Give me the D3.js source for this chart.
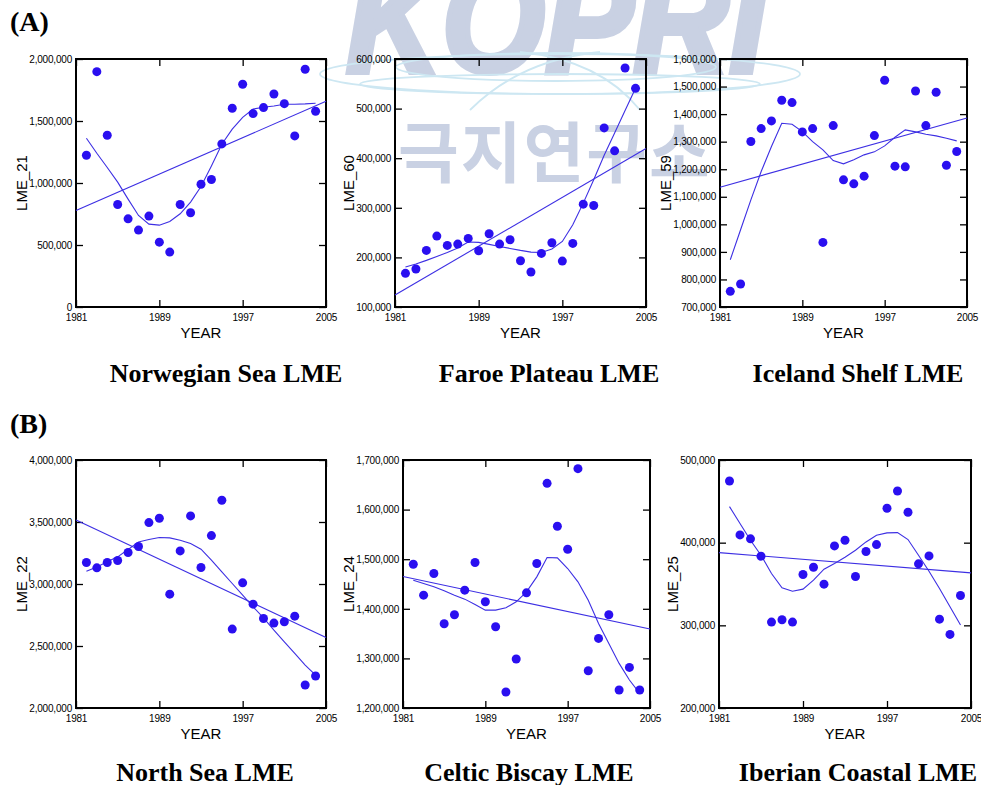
<!DOCTYPE html>
<html><head><meta charset="utf-8">
<script src="https://cdn.jsdelivr.net/npm/d3@7"></script>
<style>body{margin:0;background:#fff}svg{display:block}</style>
</head><body><svg id="c" width="981" height="785"></svg>
<script>
// ---------------- DATA ----------------
const years = [1982,1983,1984,1985,1986,1987,1988,1989,1990,1991,1992,1993,1994,1995,1996,1997,1998,1999,2000,2001,2002,2003,2004];
const trendYears = [1981, 2005];
const xTicks = [1981, 1989, 1997, 2005];

const titles = ["Norwegian Sea LME","Faroe Plateau LME","Iceland Shelf LME","North Sea LME","Celtic Biscay LME","Iberian Coastal LME"];
const yLabels = ["LME_21","LME_60","LME_59","LME_22","LME_24","LME_25"];
const groupLabels = ["(A)","(B)"];

const lme21 = [1224000,1898000,1385000,827000,711000,620000,733000,523000,443000,827000,760000,990000,1028000,1315000,1603000,1796000,1560000,1608000,1718000,1640000,1380000,1917000,1579000];
const lme21Smooth = [1361000,1240000,1125000,1007000,870000,738000,668000,660000,690000,752000,846000,972000,1138000,1313000,1434000,1530000,1597000,1611000,1621000,1635000,1635000,1638000,1643000];
const lme21Trend = [778500,1659000];
const lme21Ticks = [0,500000,1000000,1500000,2000000];

const lme60 = [167800,176500,214100,243000,224200,226800,238300,213400,247700,226800,235600,193300,170500,208100,229500,192600,228200,307400,304700,461100,414800,581900,540900];
const lme60Smooth = [180500,186600,194000,202000,210000,218800,230900,230200,226200,222100,218100,214100,210700,210000,216800,232200,265800,309400,356400,406000,451000,496000,540900];
const lme60Trend = [124200,419500];
const lme60Ticks = [100000,200000,300000,400000,500000,600000];

const lme59 = [756800,783400,1300400,1347500,1375300,1450200,1441700,1335400,1347500,934400,1358400,1161500,1147000,1174800,1322100,1522700,1211000,1208600,1484000,1358400,1479200,1214600,1264200];
const lme59Smooth = [871500,980300,1089000,1191700,1282300,1366900,1363200,1336600,1300400,1270200,1231500,1219500,1234000,1252100,1263000,1284700,1316100,1342700,1335400,1327000,1320900,1312500,1302800];
const lme59Trend = [1134900,1386200];
const lme59Ticks = [700000,800000,900000,1000000,1100000,1200000,1300000,1400000,1500000,1600000];

const lme22 = [3173200,3130200,3173200,3189300,3253700,3302000,3495300,3530200,2918100,3267100,3549000,3132900,3390600,3675200,2636200,3009400,2837600,2722100,2684600,2695300,2740900,2185200,2257700];
const lme22Smooth = [3103400,3138000,3178500,3218800,3277900,3339600,3358400,3374500,3371800,3353000,3326200,3280500,3192000,3098000,3004000,2910000,2816000,2727500,2628000,2534000,2440000,2346000,2265800];
const lme22Trend = [3516800,2569100];
const lme22Ticks = [2000000,2500000,3000000,3500000,4000000];

const lme24 = [1489900,1427500,1471100,1369800,1387900,1437600,1493300,1414100,1363800,1232200,1298700,1432200,1491300,1653000,1566400,1520100,1682500,1275200,1340300,1387900,1236200,1281900,1236200];
const lme24Smooth = [1457700,1451000,1444300,1436200,1427500,1419500,1408700,1397300,1397300,1402000,1414100,1434200,1464400,1503400,1502700,1481200,1454400,1417400,1370500,1330200,1289900,1256400,1229500];
const lme24Trend = [1465100,1359100];
const lme24Ticks = [1200000,1300000,1400000,1500000,1600000,1700000];

const lme25 = [474600,409400,404600,383600,303900,306700,303900,361500,370300,349800,396100,402900,359100,389300,397700,441600,462500,436800,374400,384000,307500,289000,336100];
const lme25Smooth = [443600,423100,402900,384800,362700,345400,341300,343800,354600,367900,374800,382400,390900,400900,409000,411800,412200,403800,384800,365500,344600,322400,300300];
const lme25Trend = [388000,363500];
const lme25Ticks = [200000,300000,400000,500000];

// ---------------- LAYOUT ----------------
const svg = d3.select("#c");
const dotColor = "#2a0ff0";
const lineColor = "#3d2fe3";

// watermark
const wm = svg.append("g");
wm.append("text").attr("x", 556).attr("y", 72).attr("text-anchor", "middle")
  .attr("font-family", "Liberation Sans, Arial, sans-serif").attr("font-weight", "900")
  .attr("font-style", "italic").attr("font-size", 150)
  .attr("stroke", "#c9d1e3").attr("stroke-width", 6)
  .attr("textLength", 420).attr("lengthAdjust", "spacingAndGlyphs")
  .attr("fill", "#c9d1e3").text("KOPRI");
[[560,74,240,20],[556,67,160,14],[560,84,200,10]].forEach(e => {
  wm.append("ellipse").attr("cx", e[0]).attr("cy", e[1]).attr("rx", e[2]).attr("ry", e[3])
    .attr("fill", "none").attr("stroke", "#cde7f2").attr("stroke-width", 1.8);
});
wm.append("path").attr("d", "M470,110 Q520,60 600,52").attr("fill","none").attr("stroke","#cde7f2").attr("stroke-width",1.8);
wm.append("path").attr("d", "M640,110 Q600,60 520,52").attr("fill","none").attr("stroke","#cde7f2").attr("stroke-width",1.8);
wm.append("text").attr("x", 398).attr("y", 177)
  .attr("font-family", "Noto Sans CJK KR, sans-serif").attr("font-weight", "bold")
  .attr("font-size", 66).attr("letter-spacing", 2)
  .attr("fill", "#c9d1e3").text("극지연구소");

const panels = [
  {v: lme21, s: lme21Smooth, t: lme21Trend, ticks: lme21Ticks, l: 76,  r: 326, top: 59,  bot: 307, tx: 226},
  {v: lme60, s: lme60Smooth, t: lme60Trend, ticks: lme60Ticks, l: 395, r: 646, top: 59,  bot: 307, tx: 549},
  {v: lme59, s: lme59Smooth, t: lme59Trend, ticks: lme59Ticks, l: 720, r: 967, top: 59,  bot: 307, tx: 858},
  {v: lme22, s: lme22Smooth, t: lme22Trend, ticks: lme22Ticks, l: 76,  r: 326, top: 460, bot: 708, tx: 205},
  {v: lme24, s: lme24Smooth, t: lme24Trend, ticks: lme24Ticks, l: 403, r: 650, top: 460, bot: 708, tx: 529},
  {v: lme25, s: lme25Smooth, t: lme25Trend, ticks: lme25Ticks, l: 719, r: 971, top: 460, bot: 708, tx: 858}
];
const titleBase = [382, 781];

panels.forEach((p, i) => {
  const g = svg.append("g");
  const x = d3.scaleLinear().domain([xTicks[0], xTicks[xTicks.length-1]]).range([p.l, p.r]);
  const y = d3.scaleLinear().domain(d3.extent(p.ticks)).range([p.bot, p.top]);
  const fmt = d3.format(",");

  const styleAxis = sel => {
    sel.select(".domain").remove();
    sel.selectAll(".tick line").attr("stroke", "#000").attr("stroke-width", 1.3);
    sel.selectAll("text").attr("font-family", "Liberation Sans, Arial, sans-serif").attr("font-size", 10).attr("fill", "#000").attr("letter-spacing", -0.2);
  };
  const ax = g.append("g").attr("transform", `translate(${p.l},0)`)
    .call(d3.axisLeft(y).tickValues(p.ticks).tickSize(-7).tickPadding(4).tickFormat(fmt)).call(styleAxis);
  g.append("g").attr("transform", `translate(${p.r},0)`)
    .call(d3.axisRight(y).tickValues(p.ticks).tickSize(-7).tickFormat("")).call(styleAxis);
  g.append("g").attr("transform", `translate(0,${p.bot})`)
    .call(d3.axisBottom(x).tickValues(xTicks).tickSize(-7).tickPadding(7).tickFormat(d3.format("d"))).call(styleAxis);
  g.append("g").attr("transform", `translate(0,${p.top})`)
    .call(d3.axisTop(x).tickValues(xTicks).tickSize(-7).tickFormat("")).call(styleAxis);

  g.append("rect").attr("x", p.l).attr("y", p.top).attr("width", p.r - p.l).attr("height", p.bot - p.top)
    .attr("fill", "none").attr("stroke", "#000").attr("stroke-width", 2);

  let maxW = 0;
  ax.selectAll("text").each(function(){ maxW = Math.max(maxW, this.getBBox().width); });

  // axis titles
  g.append("text").attr("x", (p.l + p.r) / 2).attr("y", p.bot + 31).attr("text-anchor", "middle")
    .attr("font-family", "Liberation Sans, Arial, sans-serif").attr("font-size", 15).text("YEAR");
  g.append("text").attr("transform", `translate(${p.l - maxW - 6},${(p.top + p.bot) / 2}) rotate(-90)`)
    .attr("text-anchor", "middle").attr("font-family", "Liberation Sans, Arial, sans-serif")
    .attr("font-size", 15).text(yLabels[i]);

  // trend line
  g.append("path").datum(trendYears.map((yr, k) => [yr, p.t[k]]))
    .attr("d", d3.line().x(d => x(d[0])).y(d => y(d[1])))
    .attr("fill", "none").attr("stroke", lineColor).attr("stroke-width", 1.1);
  // smooth
  g.append("path").datum(years.map((yr, k) => [yr, p.s[k]]))
    .attr("d", d3.line().x(d => x(d[0])).y(d => y(d[1])))
    .attr("fill", "none").attr("stroke", lineColor).attr("stroke-width", 1.1);
  // dots
  g.selectAll("circle.pt").data(years.map((yr, k) => [yr, p.v[k]])).enter().append("circle")
    .attr("cx", d => x(d[0])).attr("cy", d => y(d[1])).attr("r", 4.5).attr("fill", dotColor);

  // panel title
  svg.append("text").attr("x", p.tx).attr("y", titleBase[i < 3 ? 0 : 1]).attr("text-anchor", "middle")
    .attr("font-family", "Liberation Serif, Times New Roman, serif").attr("font-weight", "bold")
    .attr("font-size", 26).text(titles[i]);
});

svg.append("text").attr("x", 10).attr("y", 31).attr("font-family", "Liberation Serif, Times New Roman, serif")
  .attr("font-weight", "bold").attr("font-size", 28).text(groupLabels[0]);
svg.append("text").attr("x", 10).attr("y", 433).attr("font-family", "Liberation Serif, Times New Roman, serif")
  .attr("font-weight", "bold").attr("font-size", 28).text(groupLabels[1]);
</script></body></html>
